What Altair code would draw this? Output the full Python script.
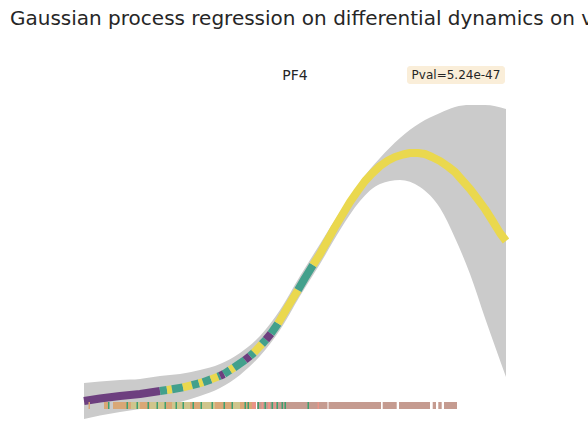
import altair as alt
import pandas as pd

# Posterior mean of the GP fit along pseudotime
mean_t = [0.0, 1.6, 3.6, 5.6, 7.6, 8.3, 8.8, 9.9, 10.8, 11.5, 11.9, 12.7, 13.4, 13.6,
          14.0, 14.6, 15.0, 16.1, 16.6, 17.0, 17.8, 18.2, 18.7, 19.4, 20.4, 21.4, 22.1,
          22.9, 23.6, 25.1, 26.6, 27.4, 28.1, 28.8, 29.6, 30.4, 31.1, 31.9, 32.6, 33.4,
          34.1, 34.8, 35.6, 36.4, 37.1, 37.8, 38.6, 39.4, 40.1, 40.8, 41.6, 42.2]
mean_v = [0.29, 0.315, 0.34, 0.36, 0.39, 0.40, 0.407, 0.426, 0.448, 0.466, 0.478, 0.506,
          0.534, 0.542, 0.56, 0.60, 0.624, 0.70, 0.74, 0.774, 0.86, 0.904, 0.965, 1.065,
          1.235, 1.40, 1.52, 1.65, 1.76, 2.03, 2.28, 2.395, 2.49, 2.565, 2.64, 2.695,
          2.73, 2.755, 2.77, 2.77, 2.76, 2.73, 2.69, 2.635, 2.58, 2.50, 2.41, 2.305,
          2.21, 2.10, 1.97, 1.89]
# Dominant stage on each stretch between consecutive mean points
seg_stage = ["early", "early", "early", "early", "mid", "late", "mid", "late", "mid",
             "late", "mid", "late", "mid", "early", "mid", "late", "mid", "early", "mid",
             "late", "mid", "early", "mid", "late", "late", "mid", "mid", "late", "late",
             "late", "late", "late", "late", "late", "late", "late", "late", "late",
             "late", "late", "late", "late", "late", "late", "late", "late", "late",
             "late", "late", "late", "late"]

# Credible band
band_t = [0.0, 1.6, 3.6, 5.6, 7.6, 9.6, 11.6, 13.6, 15.6, 17.6, 19.6, 21.6, 23.6, 25.6,
          27.6, 29.6, 31.6, 33.6, 35.6, 37.1, 38.6, 40.1, 42.2]
band_lo = [0.11, 0.145, 0.18, 0.21, 0.24, 0.28, 0.34, 0.42, 0.55, 0.74, 1.00, 1.34, 1.66,
           2.00, 2.29, 2.46, 2.50, 2.43, 2.22, 1.92, 1.56, 1.12, 0.53]
band_hi = [0.47, 0.485, 0.50, 0.51, 0.54, 0.56, 0.60, 0.66, 0.77, 0.94, 1.20, 1.54, 1.86,
           2.18, 2.48, 2.72, 2.92, 3.07, 3.17, 3.23, 3.25, 3.25, 3.21]

# Cells along pseudotime (rug), coloured by cluster
rug_start = [0.45, 2.0, 2.9, 3.4, 4.7, 5.6, 6.6, 8.2, 8.8, 10.6, 11.6, 13.1, 14.8, 15.6,
             17.3, 24.45, 29.87, 31.5, 34.87, 35.43, 36.0,
             2.4, 4.25, 5.25, 6.35, 7.25, 8.05, 9.15, 9.85, 10.85, 11.65, 12.75, 13.95,
             14.75, 16.05, 16.35, 17.35, 18.05, 18.75, 19.25, 19.75, 20.05, 22.35,
             16.8, 17.75, 18.4, 19.05, 23.35]
rug_end = [0.6, 2.4, 3.4, 4.7, 5.6, 6.6, 8.2, 8.8, 10.6, 11.6, 13.1, 14.8, 15.6, 16.8,
           24.35, 29.7, 31.27, 34.6, 35.2, 35.77, 37.3,
           2.55, 4.4, 5.4, 6.5, 7.4, 8.2, 9.3, 10.0, 11.0, 11.8, 12.9, 14.1,
           14.9, 16.2, 16.5, 17.5, 18.2, 18.9, 19.4, 19.9, 20.2, 22.5,
           17.2, 17.9, 18.6, 19.2, 23.5]
rug_kind = ["c2", "c2", "c2", "c2", "c3", "c2", "c3", "c2", "c3", "c2", "c3", "c2", "c3",
            "c2", "c5", "c5", "c5", "c5", "c5", "c5", "c5",
            "c1", "c1", "c1", "c1", "c1", "c1", "c1", "c1", "c1", "c1", "c1", "c1",
            "c1", "c1", "c1", "c1", "c1", "c1", "c1", "c1", "c1", "c1",
            "c4", "c4", "c4", "c4", "c4"]
rug_top, rug_bottom = 0.28, 0.21

gene = "PF4"
pval_text = "Pval=5.24e-47"
suptitle = "Gaussian process regression on differential dynamics on velocity"

stage_domain = ["early", "mid", "late"]
stage_range = ["#6d3f7f", "#43a08c", "#ead84e"]
rug_domain = ["c1", "c2", "c3", "c4", "c5"]
rug_range = ["#3e9f6f", "#d9a776", "#cfc58c", "#ea9488", "#c59b90"]

# Group consecutive stretches of the same stage into one polyline each
rows = []
run = 0
for i, st in enumerate(seg_stage):
    if i > 0 and st != seg_stage[i - 1]:
        run += 1
    if i == 0 or st != seg_stage[i - 1]:
        rows.append({"run": run, "k": i, "t": mean_t[i], "v": mean_v[i], "stage": st})
    rows.append({"run": run, "k": i + 1, "t": mean_t[i + 1], "v": mean_v[i + 1], "stage": st})
line_df = pd.DataFrame(rows)
band_df = pd.DataFrame({"t": band_t, "lo": band_lo, "hi": band_hi})
rug_df = pd.DataFrame({"t0": rug_start, "t1": rug_end, "kind": rug_kind,
                       "y0": rug_top, "y1": rug_bottom, "order": range(len(rug_kind))})

xs = alt.Scale(domain=[0, 42.2], nice=False, zero=False)
ys = alt.Scale(domain=[0, 3.3], nice=False, zero=False)

band = alt.Chart(band_df).mark_area(color="#cbcbcb", interpolate="monotone").encode(
    x=alt.X("t:Q", scale=xs, axis=None),
    y=alt.Y("lo:Q", scale=ys, axis=None),
    y2="hi:Q",
)

line = alt.Chart(line_df).mark_line(strokeWidth=8, strokeCap="butt", strokeJoin="round").encode(
    x=alt.X("t:Q", scale=xs, axis=None),
    y=alt.Y("v:Q", scale=ys, axis=None),
    color=alt.Color("stage:N", scale=alt.Scale(domain=stage_domain, range=stage_range), legend=None),
    detail="run:N",
    order="k:Q",
)

rug = alt.Chart(rug_df).mark_rect().encode(
    x=alt.X("t0:Q", scale=xs, axis=None),
    x2="t1:Q",
    y=alt.Y("y0:Q", scale=ys, axis=None),
    y2="y1:Q",
    fill=alt.Fill("kind:N", scale=alt.Scale(domain=rug_domain, range=rug_range), legend=None),
    order="order:Q",
)

title_txt = alt.Chart(pd.DataFrame({"s": [suptitle]})).mark_text(
    align="left", baseline="middle", font="DejaVu Sans", fontSize=20, color="#262626"
).encode(text="s:N", x=alt.value(-74), y=alt.value(-81))

gene_txt = alt.Chart(pd.DataFrame({"s": [gene]})).mark_text(
    align="center", baseline="middle", font="DejaVu Sans", fontSize=14, color="#262626"
).encode(text="s:N", x=alt.value(211), y=alt.value(-24))

pbox = alt.Chart(pd.DataFrame({"s": [pval_text]})).mark_rect(
    color="#faeed9", cornerRadius=3
).encode(x=alt.value(323), x2=alt.value(421), y=alt.value(-34), y2=alt.value(-16))

ptxt = alt.Chart(pd.DataFrame({"s": [pval_text]})).mark_text(
    align="center", baseline="middle", font="DejaVu Sans", fontSize=12, color="#262626"
).encode(text="s:N", x=alt.value(372), y=alt.value(-25))

chart = alt.layer(band, line, rug, title_txt, gene_txt, pbox, ptxt).resolve_scale(
    color="independent", fill="independent"
).properties(
    width=422, height=330, autosize="none",
    padding={"left": 84, "top": 100, "right": 82, "bottom": 16},
).configure_view(stroke=None)

chart.save("out.html", embed_options={"renderer": "svg", "actions": False})
